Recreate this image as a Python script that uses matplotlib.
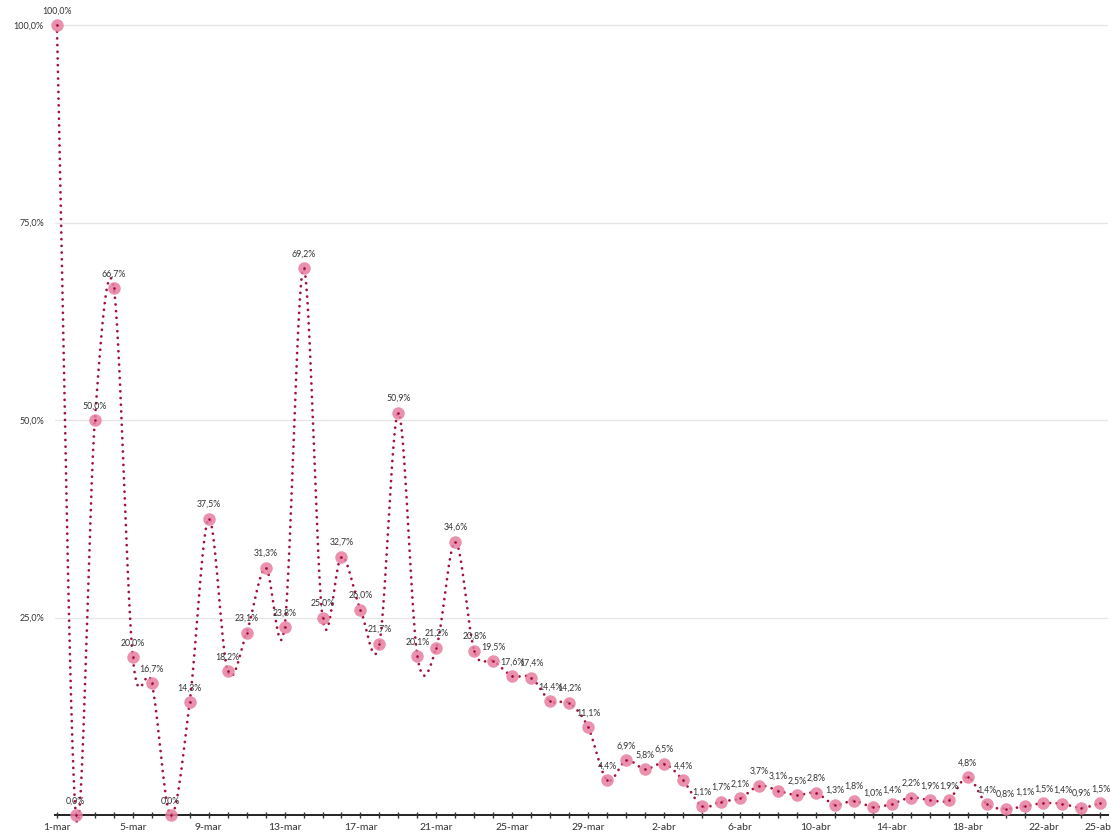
import numpy as np
import matplotlib
matplotlib.use("Agg")
import matplotlib.pyplot as plt

dates = [f"{d}-mar" for d in range(1, 32)] + [f"{d}-abr" for d in range(1, 26)]
values = [100.0, 0.0, 50.0, 66.7, 20.0, 16.7, 0.0, 14.3, 37.5, 18.2,
          23.1, 31.3, 23.8, 69.2, 25.0, 32.7, 26.0, 21.7, 50.9, 20.1,
          21.2, 34.6, 20.8, 19.5, 17.6, 17.4, 14.4, 14.2, 11.1, 4.4,
          6.9, 5.8, 6.5, 4.4, 1.1, 1.7, 2.1, 3.7, 3.1, 2.5,
          2.8, 1.3, 1.8, 1.0, 1.4, 2.2, 1.9, 1.9, 4.8, 1.4,
          0.8, 1.1, 1.5, 1.4, 0.9, 1.5]
tick_labels = ["1-mar", "5-mar", "9-mar", "13-mar", "17-mar", "21-mar", "25-mar",
               "29-mar", "2-abr", "6-abr", "10-abr", "14-abr", "18-abr", "22-abr", "25-abr"]
y_ticks = [25, 50, 75, 100]

FONT = "Lato"
x = np.arange(len(values), dtype=float)
y = np.array(values)

def catmull_rom(xs, ys, n=40):
    px, py = [], []
    m = len(xs)
    for i in range(m - 1):
        y0 = ys[i - 1] if i > 0 else ys[i]
        y1, y2 = ys[i], ys[i + 1]
        y3 = ys[i + 2] if i + 2 < m else ys[i + 1]
        t1 = (y2 - y0) / (2 if i > 0 else 1)
        t2 = (y3 - y1) / (2 if i + 2 < m else 1)
        t = np.linspace(0, 1, n, endpoint=False)
        h00 = 2*t**3 - 3*t**2 + 1
        h10 = t**3 - 2*t**2 + t
        h01 = -2*t**3 + 3*t**2
        h11 = t**3 - t**2
        px.append(xs[i] + t * (xs[i + 1] - xs[i]))
        py.append(h00*y1 + h10*t1 + h01*y2 + h11*t2)
    px.append([xs[-1]]); py.append([ys[-1]])
    return np.concatenate(px), np.concatenate(py)

fig = plt.figure(figsize=(11.11, 8.34), dpi=100)
ax = fig.add_axes([55/1111, (834-815)/834, (1108-55)/1111, (815-9.2)/834])
ax.set_xlim(-0.1, 55.4)
ax.set_ylim(0, 102)

for v in y_ticks:
    ax.axhline(v, color="#e6e6e6", lw=0.9, zorder=0)

sx, sy = catmull_rom(x, y)
ax.plot(sx, sy, color="#a3103f", lw=2.0, linestyle=(0, (0.01, 2.4)),
        dash_capstyle="round", clip_on=False, zorder=2)
ax.plot(x, y, linestyle="none", marker="o", markersize=9,
        markerfacecolor="#e77ea0", markeredgecolor="none", alpha=0.85,
        clip_on=False, zorder=3)
ax.plot(x, y, linestyle="none", marker="o", markersize=1.8,
        markerfacecolor="#9a0033", markeredgecolor="none", clip_on=False, zorder=4)

for xi, yi in zip(x, y):
    ax.annotate(f"{yi:.1f}".replace(".", ",") + "%", (xi, yi), xytext=(0, 7),
                textcoords="offset points", ha="center", va="bottom",
                fontsize=6.3, family=FONT, color="#333333", zorder=5,
                annotation_clip=False)

tick_pos = [dates.index(t) for t in tick_labels]
ax.set_xticks(tick_pos)
ax.set_xticklabels(tick_labels, fontsize=7.5, family=FONT, color="#333333")
ax.set_xticks(x, minor=True)
ax.tick_params(axis="x", which="both", direction="inout", length=5, width=1,
               color="#333333", pad=3)
ax.set_yticks(y_ticks)
ax.set_yticklabels([f"{v:.1f}".replace(".", ",") + "%" for v in y_ticks],
                   fontsize=6.5, family=FONT, color="#333333")
ax.tick_params(axis="y", length=0, pad=8)

for s in ["top", "right", "left"]:
    ax.spines[s].set_visible(False)
ax.spines["bottom"].set_color("#222222")
ax.spines["bottom"].set_linewidth(1.4)
ax.spines["bottom"].set_zorder(1)

fig.savefig("out.png", dpi=100)
